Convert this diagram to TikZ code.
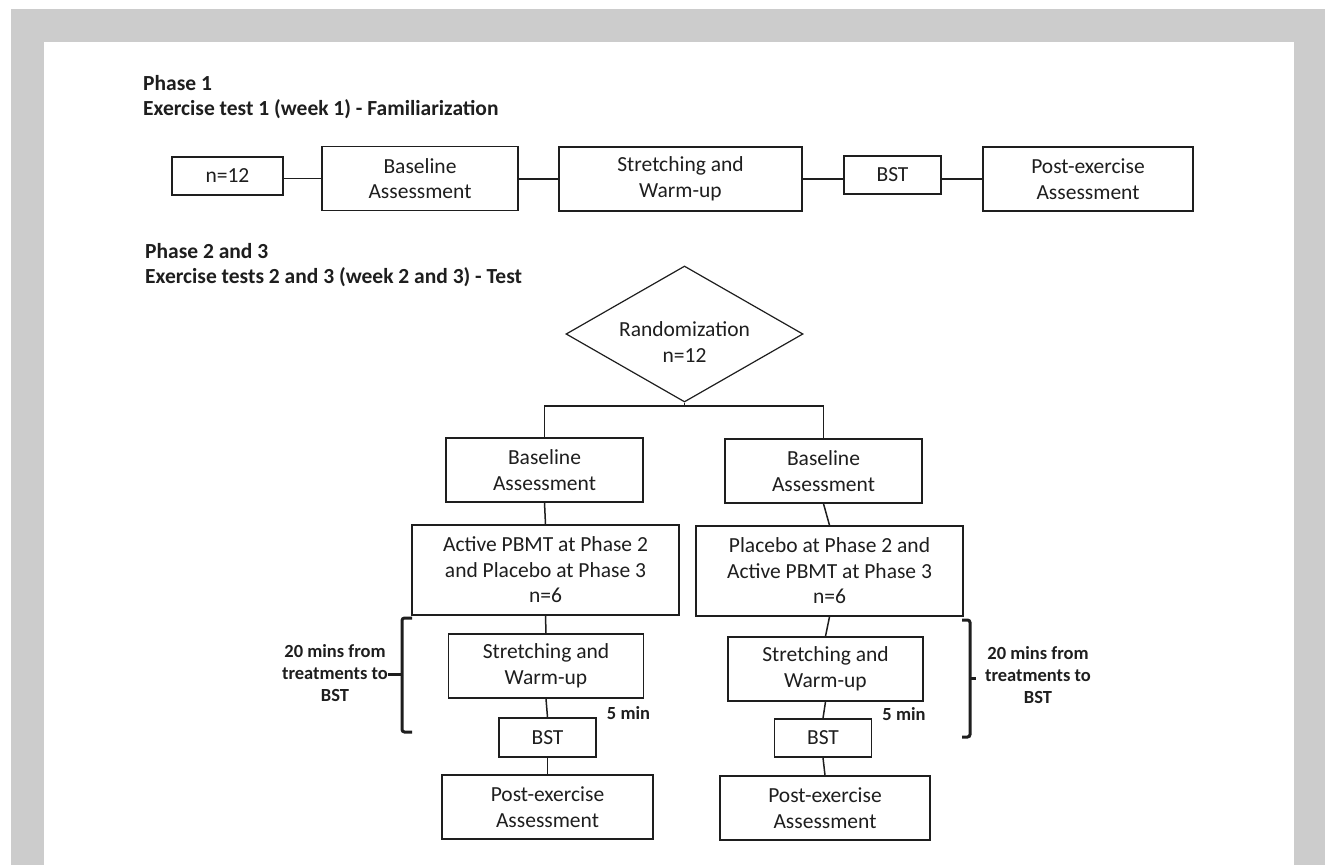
\documentclass[tikz,border=0pt]{standalone}
\usepackage{fontspec}
\setmainfont{Carlito}
\usetikzlibrary{shapes.geometric}
\definecolor{framegray}{RGB}{204,204,204}
\definecolor{ink}{RGB}{30,30,30}
\newcommand\bxf{\fontsize{21.5}{25.5}\selectfont}
\newcommand\hdf{\fontsize{21.5}{25}\selectfont\bfseries}
\newcommand\anf{\fontsize{18.5}{22}\selectfont\bfseries}
\tikzset{
  box/.style={draw=ink, line width=1.5pt, inner sep=0pt, align=center, font=\bxf, text=ink},
  conn/.style={draw=ink, line width=1.5pt},
  brk/.style={draw=ink, line width=3pt, rounded corners=2.5pt},
  head/.style={anchor=base west, inner sep=0pt, font=\hdf, text=ink},
  note/.style={align=center, inner sep=0pt, font=\anf, text=ink},
}
\begin{document}
\begin{tikzpicture}[x=1pt,y=-1pt]
\useasboundingbox (0,0) rectangle (1325,865);
\fill[white] (0,0) rectangle (1325,865);
\fill[framegray] (11,9) rectangle (1325,865);
\fill[white] (44,42) rectangle (1294,865);

% headings
\node[head] (h1) at (143,90) {Phase 1};
\node[head] (h2) at (143,115) {Exercise test 1 (week 1) - Familiarization};
\node[head] (h3) at (145,258) {Phase 2 and 3};
\node[head] (h4) at (145,283) {Exercise tests 2 and 3 (week 2 and 3) - Test};

% row 1
\node[box, minimum width=111pt, minimum height=38pt] (n12) at (227.5,176) {n=12};
\node[box, minimum width=196pt, minimum height=64pt] (base1) at (420,178.5) {Baseline\\Assessment};
\node[box, minimum width=243pt, minimum height=64pt] (str1) at (680.5,179) {Stretching and\\Warm-up};
\node[box, minimum width=97pt, minimum height=38pt] (bst1) at (892.5,175) {BST};
\node[box, minimum width=210pt, minimum height=64pt] (post1) at (1088,179) {Post-exercise\\Assessment};
\draw[conn] (n12.east |- base1.west) -- (base1.west);
\draw[conn] (str1.west) -- (str1.west -| base1.east);
\draw[conn] (str1.east) -- (str1.east -| bst1.west);
\draw[conn] (bst1.east |- post1.west) -- (post1.west);

% randomization
\node[diamond, draw=ink, line width=1.2pt, minimum width=237pt, minimum height=136pt, inner sep=0pt] (rand) at (684.5,334) {};
\node[box, draw=none] (randt) at (684.5,342) {Randomization\\n=12};
\coordinate (sp) at (684.5,406);

% left column
\node[box, minimum width=197pt, minimum height=64pt] (baseL) at (544.5,470) {Baseline\\Assessment};
\node[box, minimum width=267pt, minimum height=90pt] (actL) at (545.5,570) {Active PBMT at Phase 2\\and Placebo at Phase 3\\n=6};
\node[box, minimum width=195pt, minimum height=64pt] (strL) at (546,666) {Stretching and\\Warm-up};
\node[box, minimum width=97pt, minimum height=39pt] (bstL) at (547.5,737.5) {BST};
\node[box, minimum width=211pt, minimum height=64pt] (postL) at (547.5,807) {Post-exercise\\Assessment};

% right column
\node[box, minimum width=197pt, minimum height=64pt] (baseR) at (823.5,471) {Baseline\\Assessment};
\node[box, minimum width=267pt, minimum height=90pt] (actR) at (829.5,571) {Placebo at Phase 2 and\\Active PBMT at Phase 3\\n=6};
\node[box, minimum width=195pt, minimum height=64pt] (strR) at (825.5,669) {Stretching and\\Warm-up};
\node[box, minimum width=97pt, minimum height=38pt] (bstR) at (823,738) {BST};
\node[box, minimum width=210pt, minimum height=64pt] (postR) at (825,808) {Post-exercise\\Assessment};

% connectors
\draw[conn] (rand.south) -- (sp);
\draw[conn] (baseL.north) |- (sp) -| (baseR.north);
\draw[conn] (baseL.south) -- (actL.north);
\draw[conn] (actL.south) -- (strL.north);
\draw[conn] (strL.south) -- (bstL.north);
\draw[conn] (bstL.south) -- (postL.north);
\draw[conn] (baseR.south) -- (actR.north);
\draw[conn] (actR.south) -- (strR.north);
\draw[conn] (strR.south) -- (bstR.north);
\draw[conn] (bstR.south) -- (postR.north);

% time notes
\node[note, anchor=base] (fiveL) at (628.5,719) {5 min};
\node[note, anchor=base] (fiveR) at (904,720) {5 min};
\node[note] (noteL) at (335,673.5) {20 mins from\\treatments to\\BST};
\node[note] (noteR) at (1038,675) {20 mins from\\treatments to\\BST};

% brackets
\draw[brk] (412,618) -- (402,618) -- (402,732) -- (412,732);
\draw[draw=ink, line width=3pt] (403,674) -- (noteL.east |- 0,674) ++(3,0);
\draw[brk] (962,620) -- (970,620) -- (970,737) -- (962,737);
\draw[draw=ink, line width=3pt] (969,678) -- (976,678);
\end{tikzpicture}
\end{document}
